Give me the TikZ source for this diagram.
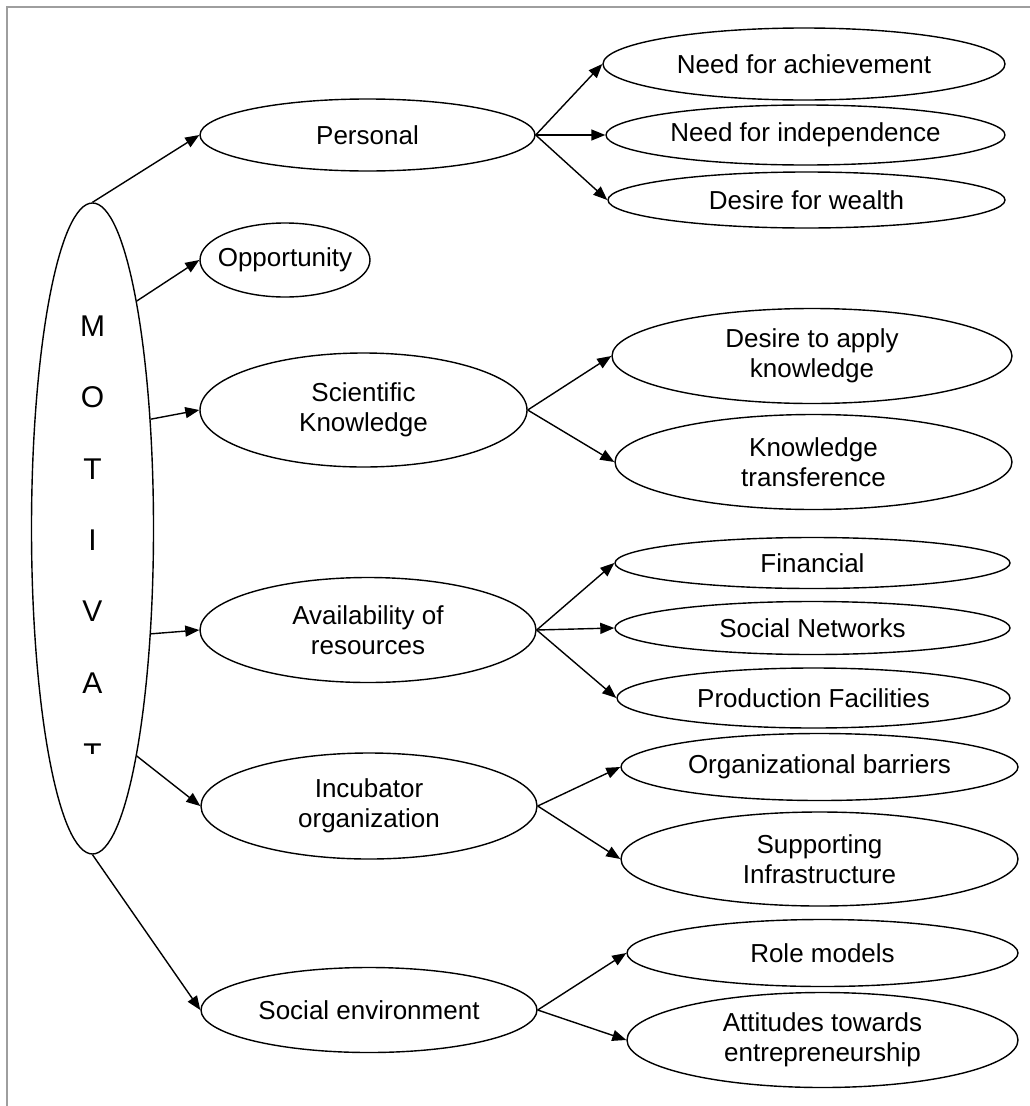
\documentclass[tikz,border=0pt]{standalone}
\usepackage{fontspec}
\setmainfont{Liberation Sans}
\usetikzlibrary{shapes.geometric,arrows.meta}
\begin{document}
\begin{tikzpicture}[x=1pt,y=-1pt,
  oval/.style={draw, ellipse, line width=1.4pt, inner sep=0pt, align=center,
    font=\fontsize{26}{30}\selectfont},
  conn/.style={line width=1.4pt, -{Triangle[length=14pt,width=11pt]}},
  letter/.style={inner sep=0pt, font=\fontsize{30}{34}\selectfont},
  frame/.style={draw=black!38, line width=2pt}]
\useasboundingbox (0,0) rectangle (1030,1106);
\coordinate (fA) at (7,1106);
\coordinate (fB) at (7,7);
\coordinate (fC) at (1030,7);
\draw[frame] (fA) -- (fB) -- (fC);

% central ellipse
\node[oval, minimum width=122pt, minimum height=651pt] (M) at (92.5,528.5) {};
\foreach \l [count=\i] in {M,O,T,I,V,A}
  \node[letter] (L\i) at (92.5,{326+71.4*(\i-1)}) {\l};
\begin{scope}
  \clip (50,700) rectangle (140,753);
  \node[letter] (L7) at (92.5,754) {T};
\end{scope}

% first level
\node[oval, minimum width=335pt, minimum height=72pt] (per) at (367.5,135) {Personal};
\node[oval, inner xsep=-30pt, minimum width=170pt, minimum height=74pt] (opp) at (285,260) {Opportunity};
\node[oval, minimum width=327pt, minimum height=114pt] (sci) at (363.5,410) {Scientific\\Knowledge};
\node[oval, minimum width=336pt, minimum height=105pt] (ava) at (368,630) {Availability of\\resources};
\node[oval, minimum width=336pt, minimum height=106pt] (inc) at (369,806) {Incubator\\organization};
\node[oval, minimum width=336pt, minimum height=85pt] (sen) at (369,1010) {Social environment};

% second level
\node[oval, minimum width=402pt, minimum height=72pt] (ach) at (804,64) {Need for achievement};
\node[oval, minimum width=399pt, minimum height=60pt] (ind) at (805.5,135) {Need for independence};
\node[oval, minimum width=397pt, minimum height=56pt] (wea) at (806.5,200) {Desire for wealth};
\node[oval, minimum width=400pt, minimum height=95pt] (app) at (812,356) {Desire to apply\\knowledge};
\node[oval, minimum width=397pt, minimum height=95pt] (tra) at (813.5,462) {Knowledge\\transference};
\node[oval, minimum width=395pt, minimum height=51pt] (fin) at (812.5,563) {Financial};
\node[oval, minimum width=395pt, minimum height=53pt] (soc) at (812.5,628) {Social Networks};
\node[oval, minimum width=393pt, minimum height=60pt] (pro) at (813.5,698) {Production Facilities};
\node[oval, minimum width=397pt, minimum height=67pt] (org) at (819.5,767) {Organizational barriers};
\node[oval, minimum width=397pt, minimum height=94pt] (sup) at (819.5,859) {Supporting\\Infrastructure};
\node[oval, minimum width=391pt, minimum height=67pt] (rol) at (822.5,953) {Role models};
\node[oval, minimum width=391pt, minimum height=95pt] (att) at (822.5,1040) {Attitudes towards\\entrepreneurship};

% connectors from centre
\draw[conn] (M.north) -- (per.west);
\draw[conn] (M.79.6) -- (opp.west);
\draw[conn] (M.62.7) -- (sci.west);
\draw[conn] (M.-61) -- (ava.west);
\draw[conn] (M.-79.6) -- (inc.west);
\draw[conn] (M.south) -- (sen.west);

% connectors to second level
\draw[conn] (per.east) -- (ach.west);
\draw[conn] (per.east) -- (ind.west);
\draw[conn] (per.east) -- (wea.west);
\draw[conn] (sci.east) -- (app.west);
\draw[conn] (sci.east) -- (tra.west);
\draw[conn] (ava.east) -- (fin.west);
\draw[conn] (ava.east) -- (soc.west);
\draw[conn] (ava.east) -- (pro.west);
\draw[conn] (inc.east) -- (org.west);
\draw[conn] (inc.east) -- (sup.west);
\draw[conn] (sen.east) -- (rol.west);
\draw[conn] (sen.east) -- (att.west);
\end{tikzpicture}
\end{document}
